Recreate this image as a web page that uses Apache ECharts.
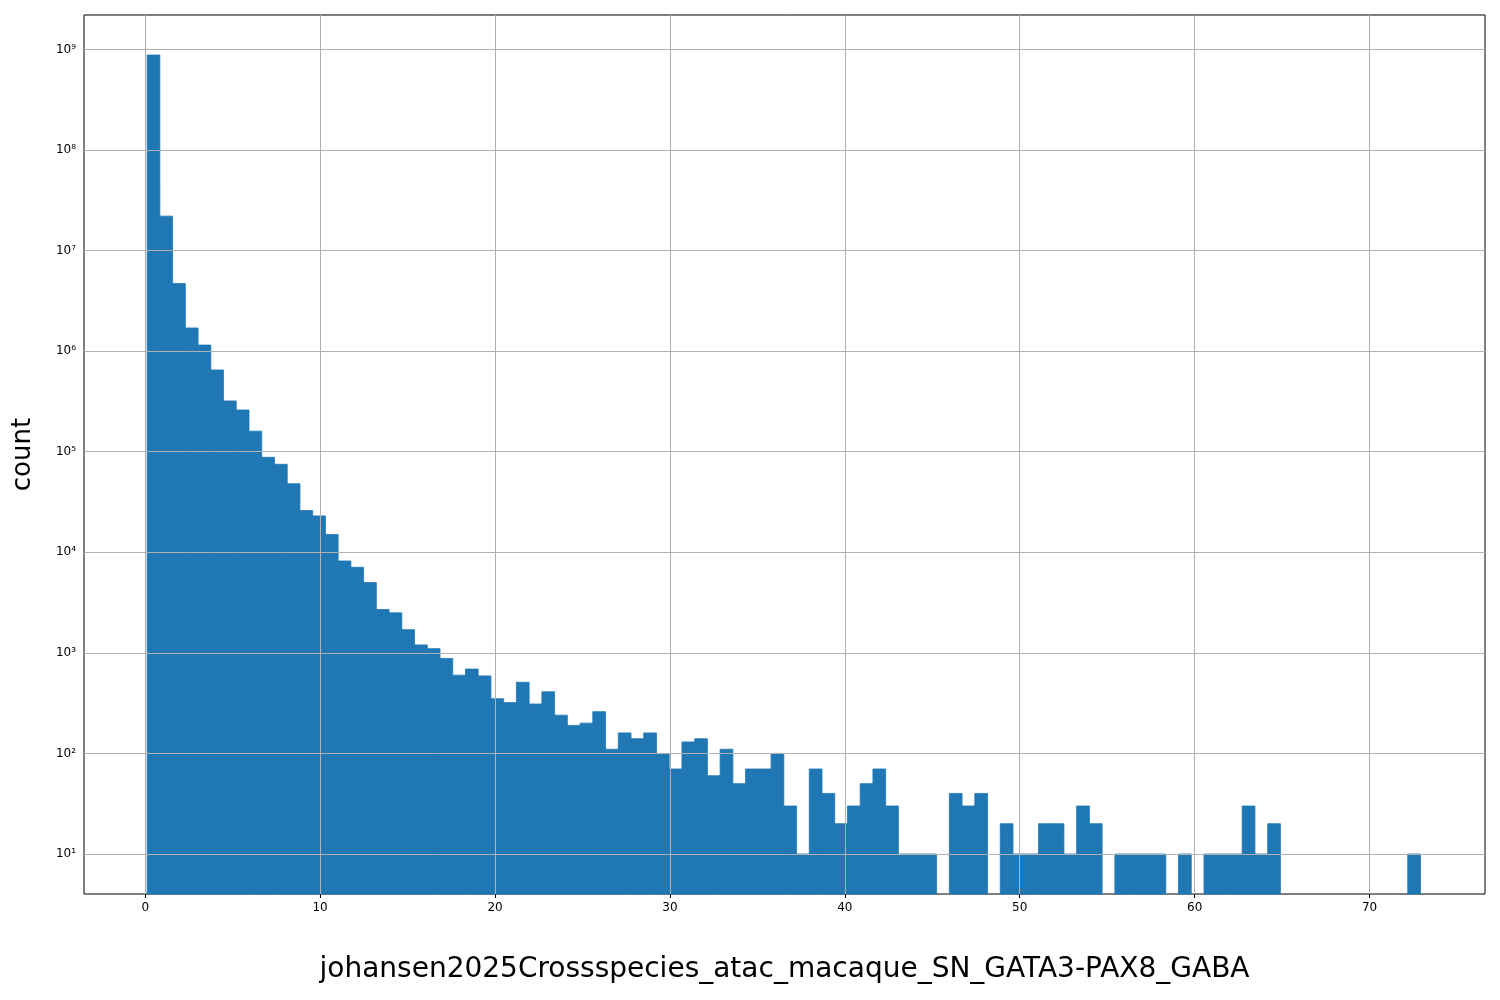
<!DOCTYPE html>
<html><head><meta charset="utf-8">
<script src="https://cdn.jsdelivr.net/npm/echarts@6/dist/echarts.min.js"></script>
<style>html,body{margin:0;padding:0;background:#fff}#c{width:1500px;height:1000px}</style>
</head><body><div id="c"></div>
<script>
const binStart = 0.11;
const binWidth = 0.728;
const counts = [
 8.8e8,2.2e7,4.7e6,1.7e6,1.15e6,6.5e5,3.2e5,2.6e5,1.6e5,8.8e4,
 7.5e4,4.8e4,2.6e4,2.3e4,1.5e4,8200,7100,5000,2700,2500,
 1700,1200,1100,880,600,690,590,350,320,510,
 310,410,240,190,200,260,110,160,140,160,
 100,70,130,140,60,110,50,70,70,100,
 30,10,70,40,20,30,50,70,30,10,
 10,10,0,40,30,40,0,20,10,10,
 20,20,10,30,20,0,10,10,10,10,
 0,10,0,10,10,10,30,10,20,0,
 0,0,0,0,0,0,0,0,0,10];
const xTicks = [0,10,20,30,40,50,60,70];
const yTicks = [1e1,1e2,1e3,1e4,1e5,1e6,1e7,1e8,1e9];
const xLabel = 'johansen2025Crossspecies_atac_macaque_SN_GATA3-PAX8_GABA';
const sup = {'-':'⁻','0':'⁰','1':'¹','2':'²','3':'³','4':'⁴','5':'⁵','6':'⁶','7':'⁷','8':'⁸','9':'⁹'};
const data = [];
counts.forEach((v,i)=>{ if(v>0) data.push([binStart+i*binWidth, binStart+(i+1)*binWidth, v]); });
const YMIN = 4;
const chart = echarts.init(document.getElementById('c'));
chart.setOption({
  animation:false,
  grid:{left:84,right:15,top:15,bottom:106,show:true,borderColor:'#000',borderWidth:1},
  xAxis:{type:'value',min:-3.5,max:76.6,
    axisLine:{show:false},axisTick:{show:true,length:4,customValues:xTicks,lineStyle:{color:'#000'}},
    axisLabel:{color:'#000',fontSize:12,fontFamily:'DejaVu Sans',customValues:xTicks},
    splitLine:{show:false},
    name:xLabel,nameLocation:'middle',nameGap:62,nameTextStyle:{fontSize:28,color:'#000',fontFamily:'DejaVu Sans'}},
  yAxis:{type:'log',logBase:10,min:YMIN,max:2.2e9,
    axisLine:{show:false},axisTick:{show:true,length:4,lineStyle:{color:'#000'}},
    axisLabel:{color:'#000',fontSize:12,fontFamily:'DejaVu Sans',showMinLabel:false,showMaxLabel:false,
      formatter:v=>{const e=Math.log10(v);if(Math.abs(e-Math.round(e))>1e-6)return '';return '10'+String(Math.round(e)).split('').map(c=>sup[c]).join('');}},
    splitLine:{show:false},
    name:'count',nameLocation:'middle',nameGap:48,nameTextStyle:{fontSize:26,color:'#000',fontFamily:'DejaVu Sans'}},
  series:[{type:'custom',data:data,encode:{x:[0,1],y:2},z:1,
    renderItem:(params,api)=>{
      const p0=api.coord([api.value(0),api.value(2)]);
      const p1=api.coord([api.value(1),YMIN]);
      return {type:'rect',shape:{x:p0[0],y:p0[1],width:p1[0]-p0[0],height:p1[1]-p0[1]},style:{fill:'#1f77b4',stroke:'#1f77b4',lineWidth:0.8}};
    }},
   {type:'line',data:[],z:5,markLine:{silent:true,symbol:'none',label:{show:false},
     lineStyle:{color:'#b0b0b0',type:'solid',width:1},
     data:xTicks.map(v=>({xAxis:v})).concat(yTicks.map(v=>({yAxis:v})))}}]
});
</script></body></html>
